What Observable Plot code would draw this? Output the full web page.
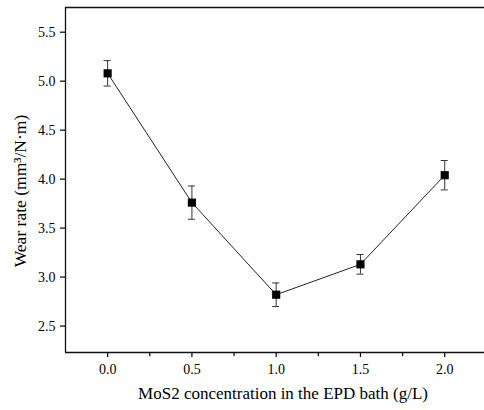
<!DOCTYPE html>
<html>
<head>
<meta charset="utf-8">
<script src="https://cdn.jsdelivr.net/npm/d3@7"></script>
<script src="https://cdn.jsdelivr.net/npm/@observablehq/plot@0.6"></script>
<style>
  html, body { margin: 0; padding: 0; background: #fff; }
  #chart svg { display: block; }
</style>
</head>
<body>
<div id="chart"></div>
<script>
const concentration = [0.0, 0.5, 1.0, 1.5, 2.0];
const wearRate = [5.08, 3.76, 2.82, 3.13, 4.04];
const errUpper = [5.21, 3.93, 2.94, 3.23, 4.19];
const errLower = [4.95, 3.59, 2.70, 3.03, 3.89];
const xTicks = [0.0, 0.5, 1.0, 1.5, 2.0];
const xMinorTicks = [0.25, 0.75, 1.25, 1.75];
const yTicks = [2.5, 3.0, 3.5, 4.0, 4.5, 5.0, 5.5];
const xTitle = "MoS2 concentration in the EPD bath (g/L)";
const yTitle = "Wear rate (mm³/N·m)";

const data = concentration.map((x, i) => ({x, y: wearRate[i], hi: errUpper[i], lo: errLower[i]}));
const xDomain = [-0.25, 2.236];
const yDomain = [2.23, 5.752];
const capHalf = 0.021;
const font = "'Liberation Serif', 'Times New Roman', serif";

const chart = Plot.plot({
  width: 484,
  height: 410,
  marginLeft: 65,
  marginRight: 0,
  marginTop: 7,
  marginBottom: 58,
  style: {fontFamily: font, fontSize: "14px", color: "#000", background: "#fff"},
  x: {domain: xDomain},
  y: {domain: yDomain},
  marks: [
    Plot.axisX(xTicks, {tickSize: 5, tickPadding: 7, tickFormat: d3.format(".1f"), label: null, fontSize: 14, strokeWidth: 1.2}),
    Plot.axisX(xMinorTicks, {tickSize: 4, tickFormat: () => "", label: null, strokeWidth: 1.2}),
    Plot.axisY(yTicks, {tickSize: 5, tickPadding: 5, tickFormat: d3.format(".1f"), label: null, fontSize: 14, strokeWidth: 1.2}),
    Plot.ruleX([xDomain[0]], {stroke: "#111", strokeWidth: 1.3}),
    Plot.ruleY([yDomain[0]], {stroke: "#111", strokeWidth: 1.3}),
    Plot.ruleY([yDomain[1]], {stroke: "#111", strokeWidth: 1.3}),
    Plot.line(data, {x: "x", y: "y", stroke: "#222", strokeWidth: 1}),
    Plot.ruleX(data, {x: "x", y1: "lo", y2: "hi", stroke: "#333", strokeWidth: 1}),
    Plot.ruleY(data, {y: "hi", x1: d => d.x - capHalf, x2: d => d.x + capHalf, stroke: "#333", strokeWidth: 1}),
    Plot.ruleY(data, {y: "lo", x1: d => d.x - capHalf, x2: d => d.x + capHalf, stroke: "#333", strokeWidth: 1}),
    Plot.dot(data, {x: "x", y: "y", symbol: "square", r: 4.6, fill: "#000", stroke: "none"}),
    Plot.text([yTitle], {frameAnchor: "left", textAnchor: "middle", rotate: -90, dx: -45, dy: 11, fontSize: 17.5, fill: "#000", text: d => d}),
    Plot.text([xTitle], {frameAnchor: "bottom", dx: 8, dy: 46, fontSize: 17, fill: "#000", text: d => d})
  ]
});
document.getElementById("chart").appendChild(chart);
</script>
</body>
</html>
